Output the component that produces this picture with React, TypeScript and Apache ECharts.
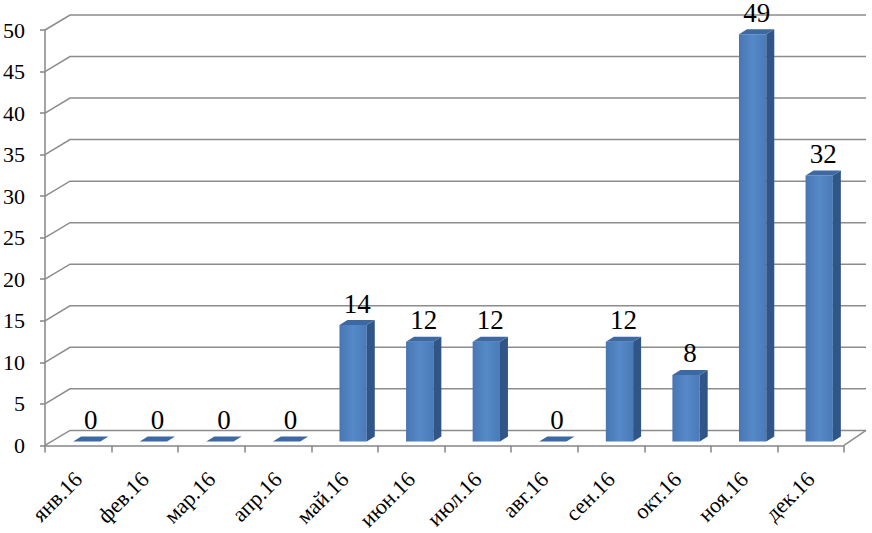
import React, { useEffect, useRef } from "react";
import * as echarts from "echarts";

const categories = ["янв.16", "фев.16", "мар.16", "апр.16", "май.16", "июн.16", "июл.16", "авг.16", "сен.16", "окт.16", "ноя.16", "дек.16"];
const values = [0, 0, 0, 0, 14, 12, 12, 0, 12, 8, 49, 32];
const yTicks = [0, 5, 10, 15, 20, 25, 30, 35, 40, 45, 50];

const FONT = "Liberation Serif";
const GRID_COLOR = "#8c8c8c";
const WALL_DX = 25;
const WALL_RDX = 22;
const WALL_DY = -15;
const BAR_OX = 8.5;
const BAR_OY = -4;
const BAR_DX = 8;
const BAR_DY = -5;

export default function App() {
  const ref = useRef<HTMLDivElement>(null);
  useEffect(() => {
    if (!ref.current) return;
    const chart = echarts.init(ref.current, null, { renderer: "svg" });
    chart.setOption({
      animation: false,
      backgroundColor: "#ffffff",
      textStyle: { fontFamily: FONT },
      grid: { left: 45, right: 28, top: 30, bottom: 87, containLabel: false },
      xAxis: {
        type: "category",
        data: categories,
        axisLine: { show: true, lineStyle: { color: "#868686", width: 1.5 } },
        axisTick: { show: true, length: 7, lineStyle: { color: "#868686", width: 1.5 } },
        axisLabel: { rotate: 45, interval: 0, fontFamily: FONT, fontSize: 22, color: "#000", margin: 30 },
        splitLine: { show: false },
      },
      yAxis: {
        type: "value",
        min: 0,
        max: 50,
        interval: 5,
        axisLine: { show: true, lineStyle: { color: "#868686", width: 1.5 } },
        axisTick: { show: true, length: 5, lineStyle: { color: "#868686", width: 1.5 } },
        axisLabel: { fontFamily: FONT, fontSize: 22, color: "#000", margin: 20 },
        splitLine: { show: false },
      },
      series: [
        {
          type: "custom",
          z: 1,
          clip: false,
          silent: true,
          data: yTicks.map((v) => [0, v]),
          renderItem: (params: any, api: any) => {
            const cs = params.coordSys;
            const v = api.value(1);
            const y = api.coord([0, v])[1];
            const right = cs.x + cs.width;
            const children: any[] = [
              {
                type: "polyline",
                shape: {
                  points: [
                    [cs.x, y],
                    [cs.x + WALL_DX, y + WALL_DY],
                    [right + WALL_RDX, y + WALL_DY],
                  ],
                },
                style: { stroke: GRID_COLOR, lineWidth: 1.5, fill: null },
              },
            ];
            if (v === 0) {
              children.push({
                type: "line",
                shape: { x1: right, y1: y, x2: right + WALL_RDX, y2: y + WALL_DY },
                style: { stroke: GRID_COLOR, lineWidth: 1.5 },
              });
            }
            return { type: "group", children };
          },
        },
        {
          type: "custom",
          z: 3,
          clip: false,
          data: values.map((v, i) => [i, v]),
          renderItem: (params: any, api: any) => {
            const i = api.value(0);
            const v = api.value(1);
            const [cx, yTop] = api.coord([i, v]);
            const y0 = api.coord([i, 0])[1];
            const bw = api.size([1, 0])[0] * 0.41;
            const x0 = cx - bw / 2 + BAR_OX;
            const x1 = x0 + bw;
            const bottom = y0 + BAR_OY;
            const top = yTop + BAR_OY;
            const children: any[] = [];
            if (v > 0) {
              children.push({
                type: "rect",
                shape: { x: x0, y: top, width: bw, height: bottom - top },
                style: {
                  fill: new echarts.graphic.LinearGradient(0, 0, 1, 0, [
                    { offset: 0, color: "#4876b3" },
                    { offset: 0.5, color: "#5689c8" },
                    { offset: 1, color: "#4a7ab8" },
                  ]),
                },
              });
              children.push({
                type: "polygon",
                shape: {
                  points: [
                    [x1, bottom],
                    [x1, top],
                    [x1 + BAR_DX, top + BAR_DY],
                    [x1 + BAR_DX, bottom + BAR_DY],
                  ],
                },
                style: { fill: "#2f5686" },
              });
            }
            children.push({
              type: "polygon",
              shape: {
                points: [
                  [x0, top],
                  [x1, top],
                  [x1 + BAR_DX, top + BAR_DY],
                  [x0 + BAR_DX, top + BAR_DY],
                ],
              },
              style: { fill: "#3c69a3" },
            });
            children.push({
              type: "text",
              style: {
                text: String(v),
                x: x0 + bw / 2 + BAR_DX / 2,
                y: top + BAR_DY - 3,
                align: "center",
                verticalAlign: "bottom",
                fontFamily: FONT,
                fontSize: 27,
                fill: "#000",
              },
            });
            return { type: "group", children };
          },
        },
      ],
    });
    return () => chart.dispose();
  }, []);
  return <div ref={ref} style={{ width: 872, height: 533, position: "absolute", left: 0, top: 0 }} />;
}
